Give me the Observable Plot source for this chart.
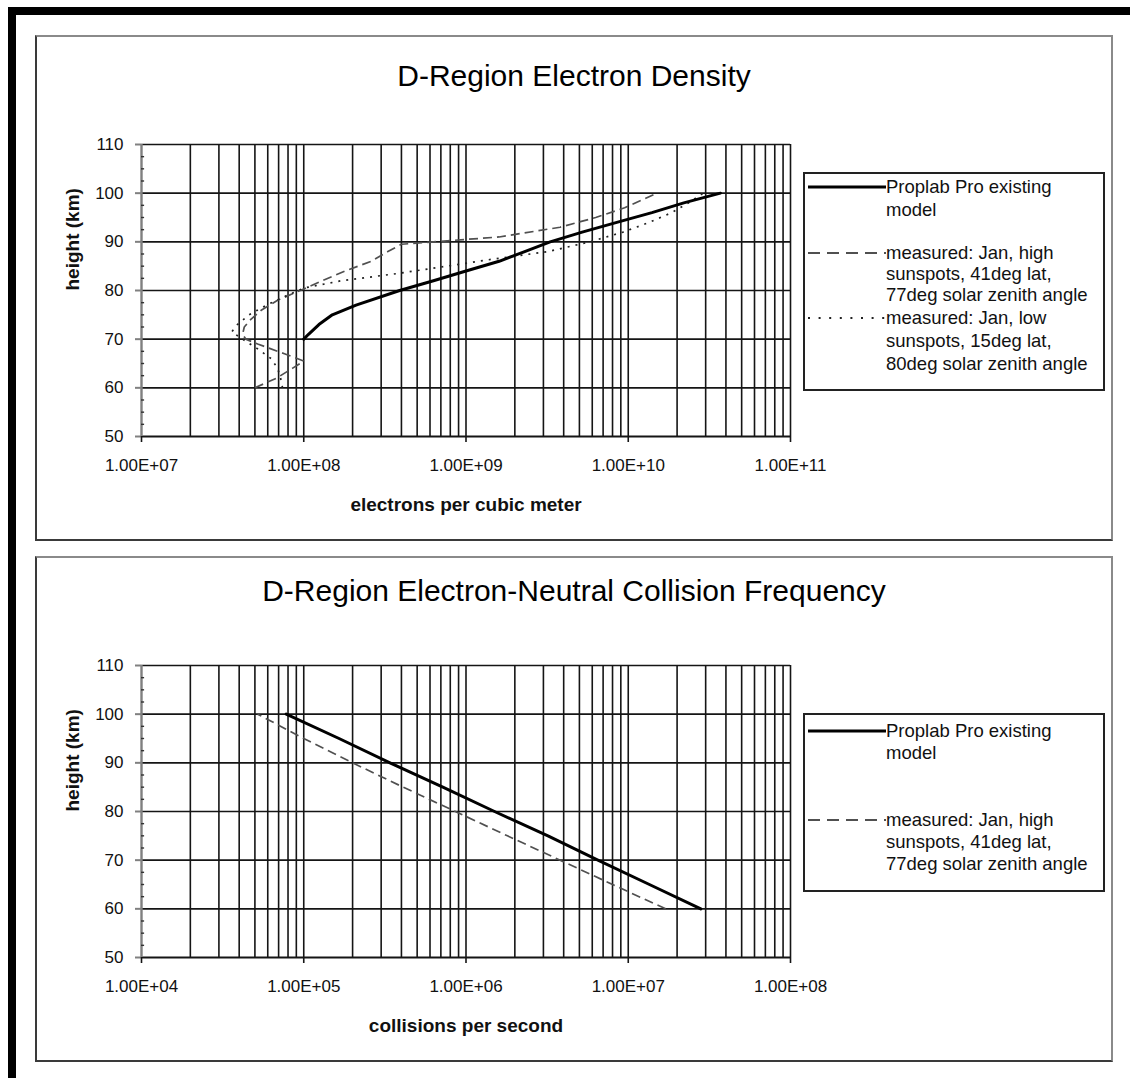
<!DOCTYPE html>
<html><head><meta charset="utf-8">
<script src="https://cdn.jsdelivr.net/npm/d3@7"></script>
<script src="https://cdn.jsdelivr.net/npm/@observablehq/plot@0.6"></script>
<style>
body{margin:0;background:#fff;}
#page{position:relative;width:1130px;height:1078px;overflow:hidden;background:#fff;font-family:"Liberation Sans",Arial,sans-serif;}
.abs{position:absolute;}
</style></head><body><div id="page"></div>
<script>
// ---------- data ----------
const heightTicks = [50, 60, 70, 80, 90, 100, 110];
const heightMinor = [52.5,55,57.5,62.5,65,67.5,72.5,75,77.5,82.5,85,87.5,92.5,95,97.5,102.5,105,107.5];
const gridMultipliers = [2,3,4,5,6,7,8,9,10];

const densDecades = [1e7, 1e8, 1e9, 1e10, 1e11];
const densTickLabels = ["1.00E+07","1.00E+08","1.00E+09","1.00E+10","1.00E+11"];
const collDecades = [1e4, 1e5, 1e6, 1e7, 1e8];
const collTickLabels = ["1.00E+04","1.00E+05","1.00E+06","1.00E+07","1.00E+08"];

// D-Region electron density (electrons per cubic meter) vs height (km)
const densModelHeights = [70,71,73,75,77,80,82,84,86,88,90,92,94,96,98,100];
const densModel = [1.0e8,1.07e8,1.24e8,1.5e8,2.1e8,3.9e8,6.3e8,1.0e9,1.6e9,2.3e9,3.3e9,5.2e9,8.5e9,1.4e10,2.2e10,3.7e10];
const densHighHeights = [60,62,64,65.5,67,69,70,71,72.5,74,76,78,80,82,84,86,88,89.5,91,93,95,97,100];
const densHigh = [5.0e7,6.8e7,8.5e7,1.0e8,7.6e7,5.2e7,4.4e7,4.2e7,4.3e7,4.7e7,5.5e7,6.9e7,9.5e7,1.3e8,1.8e8,2.6e8,3.3e8,4.0e8,1.6e9,3.8e9,6.3e9,9.5e9,1.5e10];
const densLowHeights = [60,62,64,66,68,70,71.5,73,75,77,79,80.5,82,83.5,85,86.5,88,90,92,94,96,98,100];
const densLow = [7.4e7,7.2e7,6.9e7,6.3e7,5.2e7,4.2e7,3.6e7,3.9e7,4.6e7,5.9e7,7.9e7,1.0e8,1.7e8,3.8e8,7.6e8,1.5e9,3.2e9,5.8e9,9.3e9,1.35e10,1.85e10,2.35e10,2.9e10];

// D-Region electron-neutral collision frequency (collisions per second)
const collHeights = [60,65,70,75,80,85,90,95,100];
const collModel = [2.8e7,1.35e7,6.5e6,3.2e6,1.5e6,7.2e5,3.4e5,1.65e5,7.8e4];
const collMeasured = [1.7e7,8.0e6,3.8e6,1.8e6,8.6e5,4.1e5,2.0e5,1.0e5,5.2e4];

const titles = ["D-Region Electron Density", "D-Region Electron-Neutral Collision Frequency"];
const xLabels = ["electrons per cubic meter", "collisions per second"];
const yLabel = "height (km)";
const legendModel = ["Proplab Pro existing", "model"];
const legendHigh = ["measured: Jan, high", "sunspots, 41deg lat,", "77deg solar zenith angle"];
const legendLow = ["measured: Jan, low", "sunspots, 15deg lat,", "80deg solar zenith angle"];

// ---------- styles ----------
const FONT = "Liberation Sans, Arial, sans-serif";
const GRID = "#151515";
const styles = {
  model: {stroke: "#000", strokeWidth: 3, dash: null},
  high: {stroke: "#505050", strokeWidth: 1.7, dash: "9,5"},
  low: {stroke: "#222", strokeWidth: 1.7, dash: "2,6"}
};

const page = document.getElementById("page");
function div(css, text) {
  const d = document.createElement("div");
  d.className = "abs";
  Object.assign(d.style, css);
  if (text) d.textContent = text;
  page.appendChild(d);
  return d;
}

// outer black frame
div({left: "8px", top: "7px", width: "1122px", height: "8px", background: "#000"});
div({left: "8px", top: "7px", width: "8px", height: "1071px", background: "#000"});

// chart boxes
function box(top, bottom) {
  div({left: "35px", top: top + "px", width: "1078px", height: (bottom - top) + "px",
       borderTop: "2px solid #8a8a8a", borderRight: "2px solid #8a8a8a",
       borderLeft: "2px solid #3a3a3a", borderBottom: "2px solid #3a3a3a", boxSizing: "border-box"});
}
box(35, 541);
box(556, 1062);

// titles
div({left: "35px", width: "1078px", top: "61px", textAlign: "center", fontSize: "30px", lineHeight: "30px", color: "#000"}, titles[0]);
div({left: "35px", width: "1078px", top: "576px", textAlign: "center", fontSize: "30px", lineHeight: "30px", color: "#000"}, titles[1]);

function makeChart({top, height, marginTop, marginBottom, decades, tickLabels, series, xLabel}) {
  const gridX = decades.slice(0, -1).flatMap(d => gridMultipliers.map(m => d * m));
  const minorX2 = decades[0] * 1.045;
  const marks = [
    Plot.ruleX(gridX, {stroke: GRID, strokeWidth: 1.6}),
    Plot.ruleY(heightTicks.slice(1), {stroke: GRID, strokeWidth: 1.6}),
    Plot.ruleY([heightTicks[0]], {stroke: GRID, strokeWidth: 1.8}),
    Plot.ruleX([decades[0]], {stroke: "#808080", strokeWidth: 2.4}),
    Plot.ruleY(heightMinor, {x1: decades[0], x2: minorX2, stroke: "#333", strokeWidth: 1.4}),
    Plot.axisY(heightTicks, {anchor: "left", tickSize: 6, tickPadding: 12, stroke: "#808080", strokeWidth: 2, fontSize: 17, fill: "#111", label: null}),
    Plot.axisX(decades, {anchor: "bottom", tickSize: 6, tickPadding: 16, stroke: GRID, strokeWidth: 1.6, fontSize: 17, fill: "#111", label: null,
      tickFormat: d => tickLabels[decades.indexOf(d)]}),
    ...series.map(s => Plot.line(s.heights.map((h, i) => ({h, v: s.values[i]})), {
      x: "v", y: "h", stroke: s.style.stroke, strokeWidth: s.style.strokeWidth,
      strokeDasharray: s.style.dash, strokeLinejoin: "round", strokeLinecap: s.style.dash ? "butt" : "round"
    })),
    Plot.text([xLabel], {frameAnchor: "bottom", dy: 68, fontWeight: "bold", fontSize: 19, fill: "#111", lineAnchor: "middle"}),
    Plot.text([yLabel], {frameAnchor: "left", dx: -69, rotate: -90, fontWeight: "bold", fontSize: 19, fill: "#111", lineAnchor: "middle"})
  ];
  const svg = Plot.plot({
    width: 1130, height, marginLeft: 141, marginRight: 340, marginTop, marginBottom,
    x: {type: "log", domain: [decades[0], decades[decades.length - 1]]},
    y: {domain: [50, 110]},
    style: {background: "transparent", fontFamily: FONT, fontSize: "17px", color: "#000", overflow: "visible"},
    marks
  });
  svg.style.position = "absolute";
  svg.style.left = "0px";
  svg.style.top = top + "px";
  page.appendChild(svg);
}

makeChart({top: 0, height: 540, marginTop: 144, marginBottom: 104, decades: densDecades, tickLabels: densTickLabels, xLabel: xLabels[0],
  series: [
    {heights: densHighHeights, values: densHigh, style: styles.high},
    {heights: densLowHeights, values: densLow, style: styles.low},
    {heights: densModelHeights, values: densModel, style: styles.model}
  ]});
makeChart({top: 540, height: 538, marginTop: 125, marginBottom: 121, decades: collDecades, tickLabels: collTickLabels, xLabel: xLabels[1],
  series: [
    {heights: collHeights, values: collMeasured, style: styles.high},
    {heights: collHeights, values: collModel, style: styles.model}
  ]});

// legends
function legend(left, top, width, height, entries) {
  const svg = d3.select(page).append("svg").attr("class", "abs")
    .style("left", left + "px").style("top", top + "px")
    .attr("width", width).attr("height", height);
  svg.append("rect").attr("x", 1).attr("y", 1).attr("width", width - 2).attr("height", height - 2)
    .attr("fill", "#fff").attr("stroke", "#222").attr("stroke-width", 2);
  for (const e of entries) {
    svg.append("line").attr("x1", 5).attr("x2", 83).attr("y1", e.ys[0] - top).attr("y2", e.ys[0] - top)
      .attr("stroke", e.style.stroke).attr("stroke-width", e.style === styles.model ? 3 : 2)
      .attr("stroke-dasharray", e.style === styles.high ? "12,7" : e.style === styles.low ? "2,8.6" : null);
    e.lines.forEach((t, i) => {
      svg.append("text").attr("x", 83).attr("y", e.ys[i] - top + 6.3)
        .attr("font-family", FONT).attr("font-size", 18.5).attr("fill", "#111").text(t);
    });
  }
}
legend(803, 172, 302, 219, [
  {lines: legendModel, ys: [187, 210], style: styles.model},
  {lines: legendHigh, ys: [253, 274, 295], style: styles.high},
  {lines: legendLow, ys: [318, 341, 364], style: styles.low}
]);
legend(803, 713, 302, 179, [
  {lines: legendModel, ys: [731, 753], style: styles.model},
  {lines: legendHigh, ys: [820, 842, 864], style: styles.high}
]);
</script></body></html>
